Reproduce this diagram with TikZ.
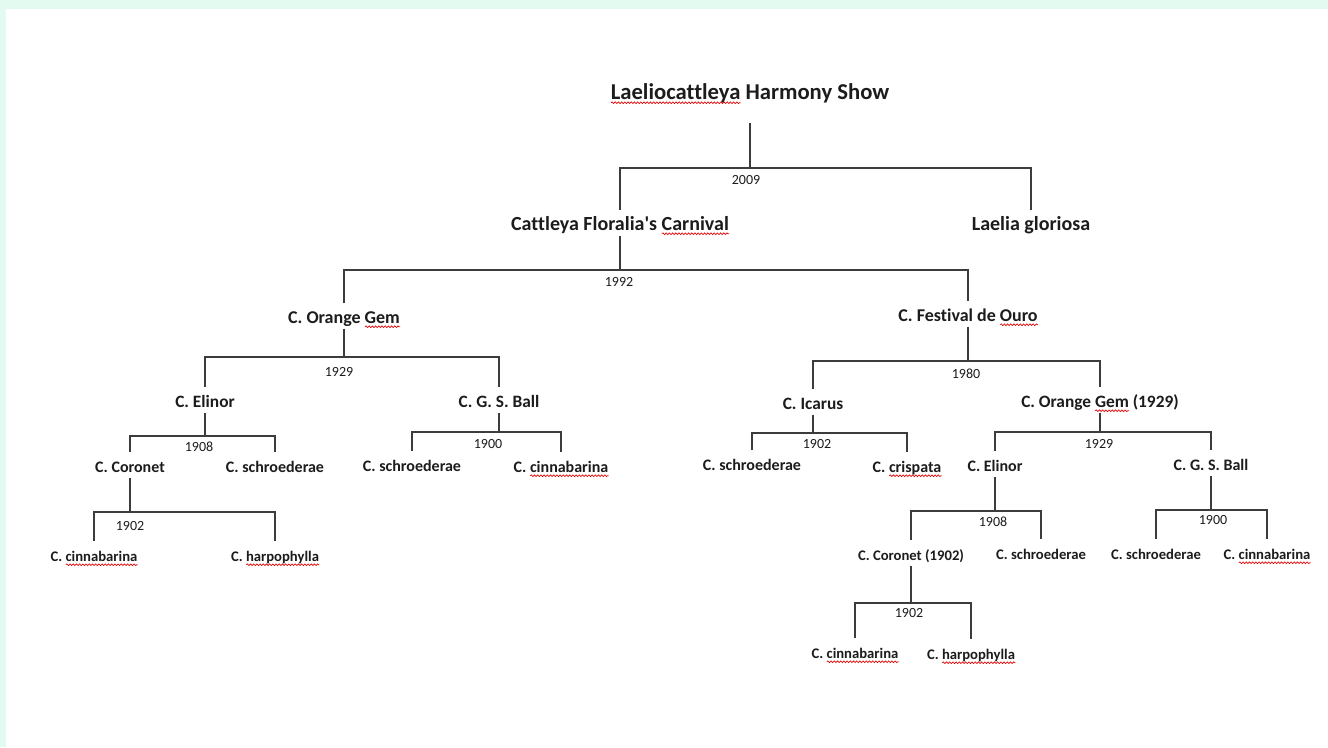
\documentclass[tikz,border=0pt]{standalone}
\usepackage{fontspec}
\setmainfont{Carlito}[Ligatures={TeX,CommonOff}]
\usetikzlibrary{positioning,decorations.pathmorphing}
\definecolor{mint}{RGB}{226,250,239}
\definecolor{ink}{RGB}{28,28,28}
\definecolor{wire}{RGB}{60,60,60}
% word with a spelling mark: word, rest of the line after it
\newcommand\typo[2]{\setbox0\hbox{#1#2}\xdef\typoA{\the\wd0}\setbox0\hbox{#2}\xdef\typoB{\the\wd0}#1#2}
\newcommand\squig[1]{\draw[typo] ([xshift=-\typoA, yshift=-2.8pt]#1.base east) -- ([xshift=-\typoB, yshift=-2.8pt]#1.base east);}

\begin{document}
\begin{tikzpicture}[x=0.75pt,y=-0.75pt,
	plant/.style={font=\bfseries\fontsize{#1}{#1}\selectfont, text=ink, inner xsep=0pt, inner ysep=4pt, text height=10.5pt, text depth=0pt},
	year/.style={font=\fontsize{10.5}{12}\selectfont, text=ink, inner sep=0pt},
	link/.style={draw=wire, line width=0.9pt},
	typo/.style={draw=red!90!black, line width=0.5pt, decorate, decoration={snake, amplitude=0.65pt, segment length=2.4pt}}]
	
	\useasboundingbox (0,0) rectangle (1328,747);
	\fill[mint] (0,0) rectangle (1328,747);
	\fill[white] (6,9) rectangle (1328,747);
	
	% names
	\node[plant=17, inner ysep=18pt] (show) at (750,92) {\typo{Laeliocattleya}{ Harmony Show}}; \squig{show}
	\node[plant=15] (cfc) at (620,223) {Cattleya Floralia\textquotesingle s \typo{Carnival}{}}; \squig{cfc}
	\node[plant=15] (lglo) at (1031,223) {Laelia gloriosa};
	\node[plant=13.5] (ogem) at (344,316) {C. Orange \typo{Gem}{}}; \squig{ogem}
	\node[plant=13.5] (fest) at (968,314) {C. Festival de \typo{Ouro}{}}; \squig{fest}
	\node[plant=13] (elinL) at (205,400) {C. Elinor};
	\node[plant=13] (gsbL) at (499,400) {C. G. S. Ball};
	\node[plant=13] (icar) at (813,402) {C. Icarus};
	\node[plant=13] (ogemR) at (1100,400) {C. Orange \typo{Gem}{ (1929)}}; \squig{ogemR}
	\node[plant=12] (corL) at (130,465) {C. Coronet};
	\node[plant=12] (schL) at (275,465) {C. schroederae};
	\node[plant=12] (schG) at (412,464) {C. schroederae};
	\node[plant=12] (cinG) at (561,465) {C. \typo{cinnabarina}{}}; \squig{cinG}
	\node[plant=12] (schI) at (752,463) {C. schroederae};
	\node[plant=12] (cris) at (907,465) {C. \typo{crispata}{}}; \squig{cris}
	\node[plant=12] (elinR) at (995,464) {C. Elinor};
	\node[plant=12] (gsbR) at (1211,463) {C. G. S. Ball};
	\node[plant=11] (cinL) at (94,554) {C. \typo{cinnabarina}{}}; \squig{cinL}
	\node[plant=11] (harL) at (275,554) {C. \typo{harpophylla}{}}; \squig{harL}
	\node[plant=11] (corR) at (911,553) {C. Coronet (1902)};
	\node[plant=11] (schE) at (1041,552) {C. schroederae};
	\node[plant=11] (schB) at (1156,552) {C. schroederae};
	\node[plant=11] (cinB) at (1267,552) {C. \typo{cinnabarina}{}}; \squig{cinB}
	\node[plant=11] (cinR) at (855,651) {C. \typo{cinnabarina}{}}; \squig{cinR}
	\node[plant=11] (harR) at (971,652) {C. \typo{harpophylla}{}}; \squig{harR}
	
	% crossing bars
	\coordinate (j2009) at (750,168);
	\coordinate (j1992) at (620,270);
	\coordinate (j1929) at (344,357);
	\coordinate (j1980) at (968,361);
	\coordinate (j1908) at (205,436);
	\coordinate (j1900) at (499,432);
	\coordinate (j1902) at (130,512);
	\coordinate (k1902) at (813,433);
	\coordinate (k1929) at (1100,432);
	\coordinate (k1908) at (995,511);
	\coordinate (k1900) at (1211,510);
	\coordinate (m1902) at (911,603);
	
	\draw[link] (show.south) -- (show |- j2009);
	\draw[link] (cfc.north) |- (j2009) -| (lglo.north);
	\draw[link] (cfc.south) -- (cfc |- j1992);
	\draw[link] (ogem.north) |- (j1992) -| (fest.north);
	\draw[link] (ogem.south) -- (ogem |- j1929);
	\draw[link] (elinL.north) |- (j1929) -| (gsbL.north);
	\draw[link] (fest.south) -- (fest |- j1980);
	\draw[link] (icar.north) |- (j1980) -| (ogemR.north);
	\draw[link] (elinL.south) -- (elinL |- j1908);
	\draw[link] (corL.north) |- (j1908) -| (schL.north);
	\draw[link] (gsbL.south) -- (gsbL |- j1900);
	\draw[link] (schG.north) |- (j1900) -| (cinG.north);
	\draw[link] (corL.south) -- (corL |- j1902);
	\draw[link] (cinL.north) |- (j1902) -| (harL.north);
	\draw[link] (icar.south) -- (icar |- k1902);
	\draw[link] (schI.north) |- (k1902) -| (cris.north);
	\draw[link] (ogemR.south) -- (ogemR |- k1929);
	\draw[link] (elinR.north) |- (k1929) -| (gsbR.north);
	\draw[link] (elinR.south) -- (elinR |- k1908);
	\draw[link] (corR.north) |- (k1908) -| (schE.north);
	\draw[link] (gsbR.south) -- (gsbR |- k1900);
	\draw[link] (schB.north) |- (k1900) -| (cinB.north);
	\draw[link, line width=1.6pt] (corR.south) -- (corR |- m1902);
	\draw[link] (cinR.north) |- (m1902) -| (harR.north);
	
	% years
	\node[year] at (746,180) {2009};
	\node[year] at (619,282) {1992};
	\node[year] at (339,372) {1929};
	\node[year] at (966,374) {1980};
	\node[year] at (199,447) {1908};
	\node[year] at (488,444) {1900};
	\node[year] at (130,526) {1902};
	\node[year] at (817,444) {1902};
	\node[year] at (1099,444) {1929};
	\node[year] at (993,522) {1908};
	\node[year] at (1213,520) {1900};
	\node[year] at (909,613) {1902};
	
\end{tikzpicture}
\end{document}
